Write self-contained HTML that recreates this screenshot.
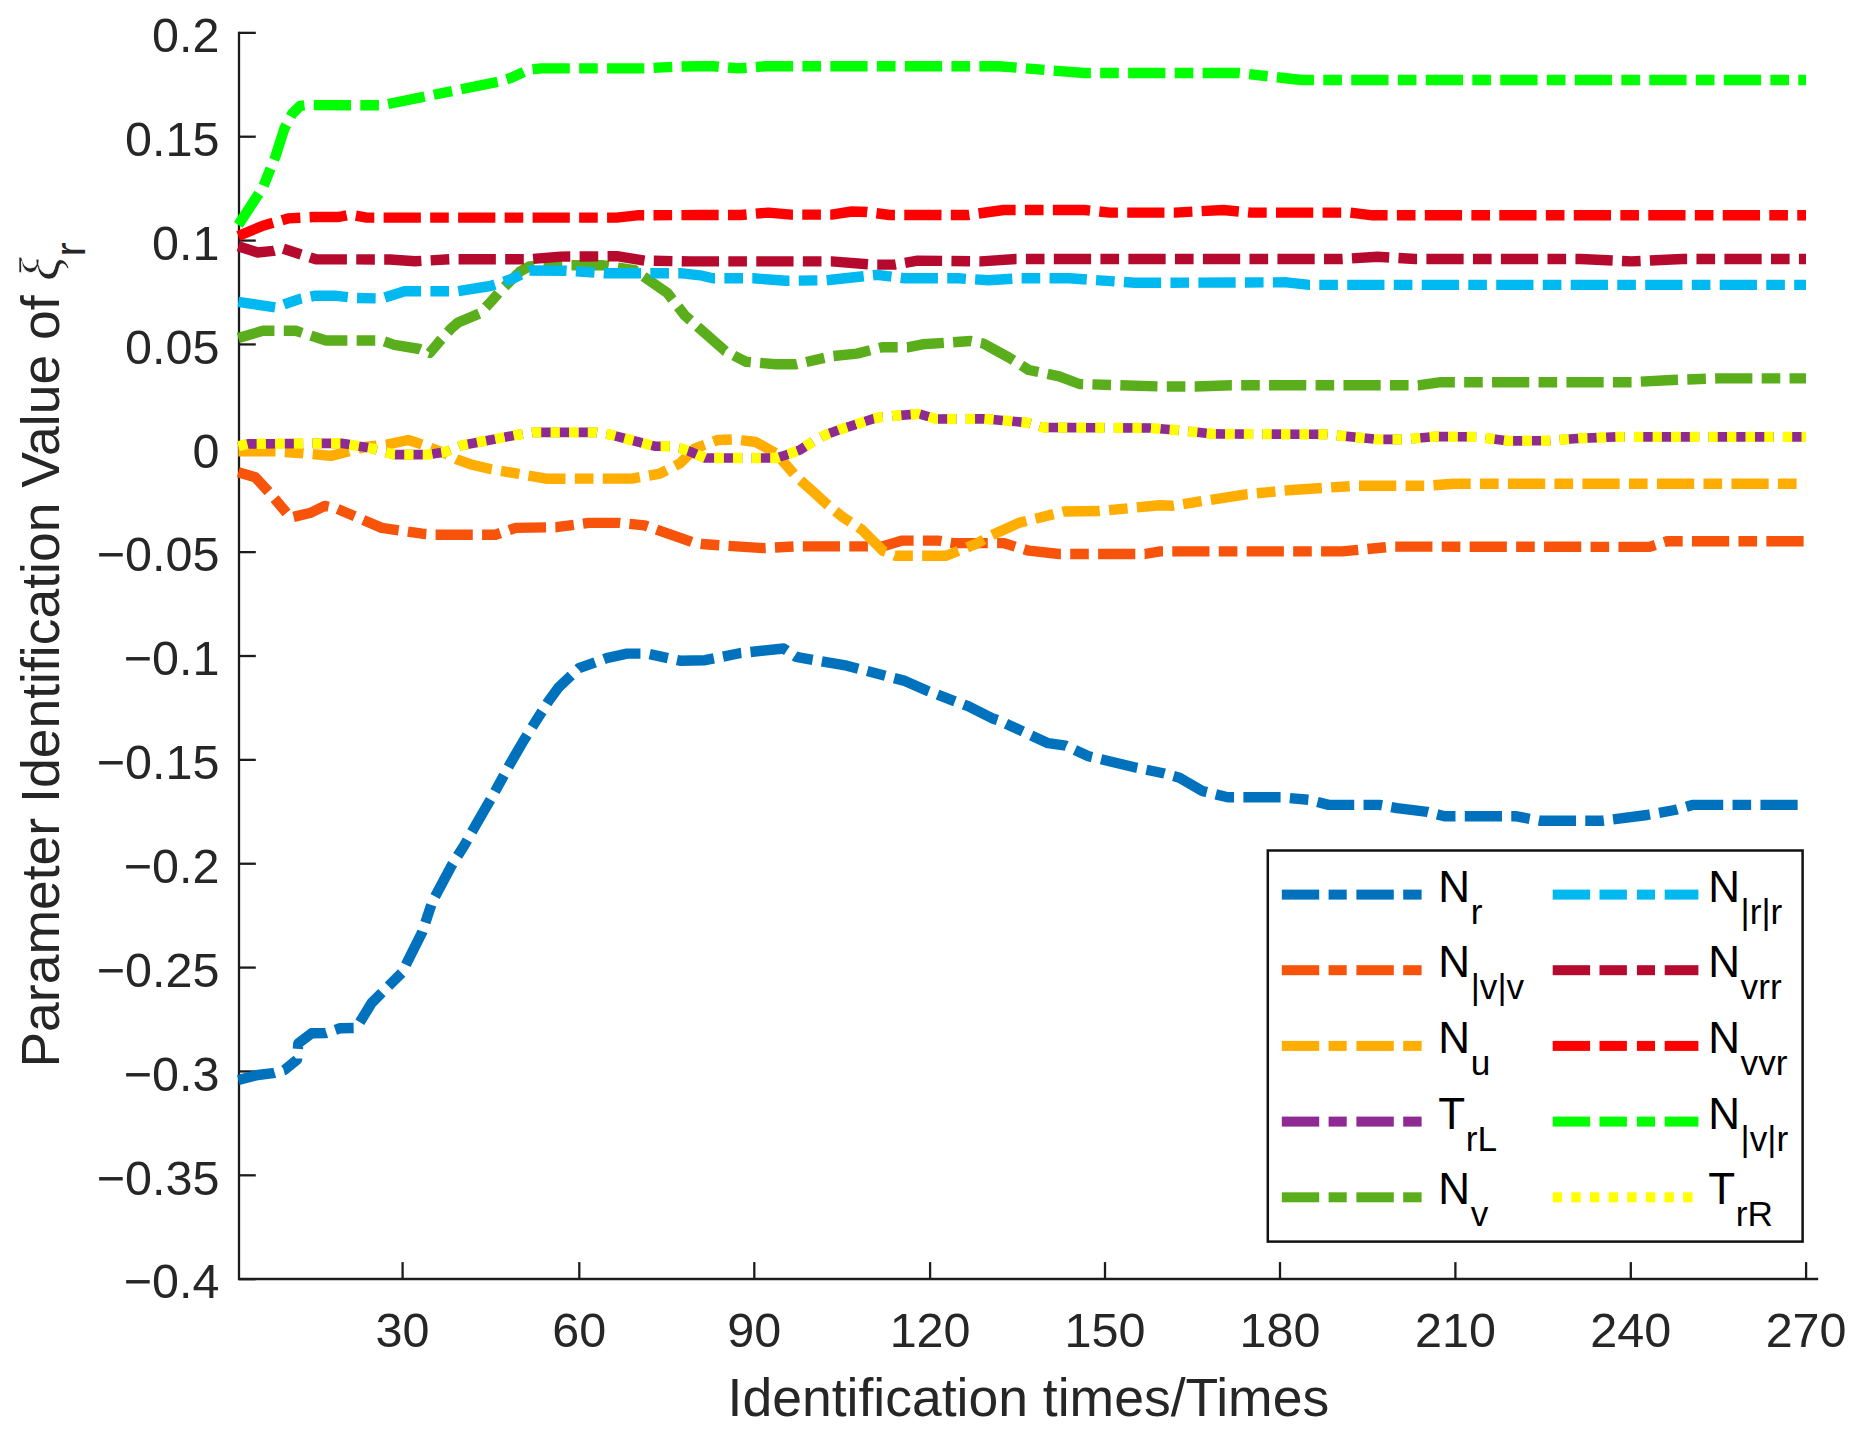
<!DOCTYPE html>
<html lang="en"><head><meta charset="utf-8"><title>Parameter Identification Value</title>
<style>html,body{margin:0;padding:0;background:#fff}svg{display:block}text{font-family:"Liberation Sans",sans-serif}.xi{font-family:"Liberation Serif","DejaVu Serif",serif;font-style:italic}</style></head><body>
<svg width="1859" height="1430" viewBox="0 0 1859 1430">
<rect width="1859" height="1430" fill="#fff"/>
<g stroke="#1c1c1c" stroke-width="2.3" fill="none" stroke-linecap="butt">
<path d="M239 31.700000000000003V1279.0H1818.2"/>
<path d="M239 32.85h16.8"/>
<path d="M239 136.71h16.8"/>
<path d="M239 240.57h16.8"/>
<path d="M239 344.43h16.8"/>
<path d="M239 448.29h16.8"/>
<path d="M239 552.15h16.8"/>
<path d="M239 656.01h16.8"/>
<path d="M239 759.87h16.8"/>
<path d="M239 863.73h16.8"/>
<path d="M239 967.59h16.8"/>
<path d="M239 1071.45h16.8"/>
<path d="M239 1175.31h16.8"/>
<path d="M239 1279.17h16.8"/>
<path d="M402.6 1279.0v-16.9"/>
<path d="M579.3 1279.0v-16.9"/>
<path d="M754.3 1279.0v-16.9"/>
<path d="M930.1 1279.0v-16.9"/>
<path d="M1105.0 1279.0v-16.9"/>
<path d="M1280.0 1279.0v-16.9"/>
<path d="M1455.4 1279.0v-16.9"/>
<path d="M1630.8 1279.0v-16.9"/>
<path d="M1806.1 1279.0v-16.9"/>
</g>
<g fill="none" stroke-linejoin="round" stroke-linecap="butt" stroke-width="10.4">
<polyline points="238.3,1080.0 257.8,1075.0 273.0,1073.2 284.4,1070.0 297.0,1059.8 298.3,1043.4 311.5,1033.3 325.5,1033.1 340.0,1028.3 356.4,1027.9 371.6,1003.0 381.7,992.8 402.0,972.6 407.0,962.5 422.2,932.2 432.3,901.8 452.5,863.9 464.5,845.0 475.2,826.0 492.8,795.6 510.7,762.8 524.0,740.0 548.6,701.0 558.7,687.2 578.9,668.2 606.7,658.1 627.0,653.6 647.2,653.6 680.0,660.7 705.0,660.2 740.6,653.0 783.6,648.5 796.2,656.9 846.8,665.7 904.9,680.9 927.7,691.0 968.1,706.2 993.4,718.8 1000.0,720.9 1048.0,743.2 1065.7,745.7 1088.5,756.3 1136.5,767.7 1164.4,773.5 1179.5,777.8 1202.3,791.0 1227.6,797.3 1280.7,797.3 1308.5,799.8 1328.7,804.9 1379.3,804.9 1397.0,808.1 1427.3,811.9 1444.6,816.2 1515.4,816.2 1540.7,820.8 1601.4,820.8 1647.0,815.0 1674.7,810.0 1692.4,804.9 1806.0,804.9" stroke="#0072BD" stroke-dasharray="37.200 9.300 18.600 9.300"/>
<polyline points="238.3,472.3 255.3,477.3 270.5,493.8 290.5,517.6 310.9,512.7 324.8,505.9 336.2,508.4 381.7,527.9 422.2,533.7 434.8,534.7 495.5,534.7 515.7,527.9 556.2,527.2 589.0,522.9 619.4,522.9 644.6,525.4 695.0,543.0 705.0,544.3 763.3,548.1 796.2,546.4 882.2,546.4 902.4,540.6 937.8,540.6 953.0,543.1 1003.5,543.1 1028.8,550.7 1059.2,554.0 1145.0,554.0 1160.0,551.4 1342.2,551.4 1392.7,546.6 1649.4,546.9 1667.0,541.3 1806.0,541.3" stroke="#F7530B" stroke-dasharray="37.200 9.300 18.600 9.300"/>
<polyline points="238.3,451.3 275.5,451.3 303.3,453.3 331.1,455.9 346.3,452.0 366.7,446.6 386.8,444.6 408.3,440.0 422.2,444.5 445.0,453.3 457.6,459.6 472.3,464.8 491.3,469.2 518.7,473.9 546.0,478.7 632.0,478.6 659.8,473.6 680.0,463.4 695.0,448.3 717.8,440.0 735.5,439.4 755.7,442.0 776.0,453.3 796.2,476.5 813.1,491.6 827.3,504.6 842.8,517.1 861.8,529.6 871.3,539.1 883.2,551.0 895.1,555.8 946.3,555.8 958.1,551.0 976.0,543.9 988.4,536.8 1018.7,522.9 1064.2,511.5 1099.6,511.0 1160.0,505.2 1172.8,505.7 1246.0,494.3 1291.6,490.0 1357.3,485.7 1428.0,485.7 1453.4,483.7 1806.0,483.7" stroke="#FFAD00" stroke-dasharray="37.248 9.312 18.624 9.312"/>
<polyline points="238.3,446.3 248.0,443.9 341.3,443.2 371.6,448.3 394.3,454.6 427.2,454.6 445.0,452.0 462.6,445.2 515.7,435.1 533.4,432.4 596.6,432.4 609.3,434.4 654.8,446.2 670.0,446.2 680.2,448.2 690.0,451.5 705.2,458.0 776.5,458.0 788.4,454.2 800.0,449.9 813.0,441.5 826.2,434.6 840.0,429.5 852.3,425.6 873.7,418.6 882.0,416.8 918.9,413.9 936.7,419.0 984.3,418.8 1026.3,422.5 1044.0,427.5 1150.0,428.0 1175.3,430.0 1213.2,433.9 1327.0,434.4 1377.6,439.4 1402.8,439.4 1435.7,436.5 1476.2,436.9 1509.0,440.9 1547.0,440.7 1581.0,438.2 1616.6,436.9 1806.0,436.9" stroke="#8E2A92" stroke-dasharray="37.230 9.307 18.615 9.307" stroke-width="9.6"/>
<polyline points="238.3,338.0 262.9,330.8 295.7,330.8 326.0,340.5 381.7,340.5 394.3,344.8 419.6,349.0 429.7,353.0 438.7,342.3 451.6,328.1 458.1,322.5 480.0,313.3 490.4,302.3 499.4,292.0 509.7,281.6 520.1,271.6 529.1,266.4 540.0,265.4 601.7,265.1 634.6,270.2 667.4,293.0 685.1,315.7 705.2,333.4 725.4,351.1 745.6,361.7 776.0,364.3 796.2,364.3 831.6,356.2 856.9,353.6 882.2,347.3 907.4,347.3 922.6,344.3 970.7,341.0 983.3,343.5 1008.6,357.4 1028.8,370.0 1059.2,376.4 1079.4,384.0 1119.8,385.3 1160.0,386.5 1195.5,386.5 1231.0,385.3 1418.0,385.3 1440.8,382.2 1631.7,382.2 1667.0,380.2 1717.7,378.4 1806.0,378.4" stroke="#5AAE1B" stroke-dasharray="37.200 9.300 18.600 9.300"/>
<polyline points="238.3,301.8 275.5,307.4 300.0,298.8 314.5,295.8 336.5,295.8 356.4,298.0 381.7,298.5 404.5,291.2 457.6,291.2 490.4,286.0 513.0,278.6 529.5,270.5 566.3,270.7 604.2,273.2 680.0,273.2 700.0,275.3 712.8,278.3 753.2,278.3 786.0,280.8 826.5,280.3 877.0,274.8 905.0,278.3 958.0,278.3 988.4,280.3 1018.7,278.3 1069.3,278.3 1135.0,282.8 1286.5,282.3 1309.3,284.9 1806.0,284.9" stroke="#00B9F1" stroke-dasharray="37.248 9.312 18.624 9.312"/>
<polyline points="238.3,246.2 257.8,252.5 273.0,250.9 282.0,248.3 301.3,254.5 316.0,259.3 390.0,259.5 415.0,261.3 450.0,259.2 530.0,259.2 561.0,256.6 617.0,256.2 644.6,260.6 690.0,261.4 831.6,261.4 872.0,264.6 894.8,264.6 917.6,260.6 980.8,261.4 1016.0,259.0 1342.2,259.0 1377.6,256.8 1415.5,259.0 1581.0,259.0 1631.7,261.4 1682.3,259.0 1806.0,259.0" stroke="#B50A2E" stroke-dasharray="37.267 9.317 18.633 9.317"/>
<polyline points="238.3,236.0 262.9,225.8 288.0,218.4 313.4,217.0 338.7,217.0 350.0,214.6 366.5,217.6 616.9,217.6 637.0,215.3 700.0,215.0 740.6,215.0 768.4,212.6 791.0,214.6 831.6,214.6 851.8,211.5 867.0,212.0 889.7,215.0 968.0,215.0 1003.5,210.0 1084.4,210.0 1109.7,212.6 1175.3,212.6 1223.3,210.0 1251.0,212.6 1349.7,212.6 1372.5,215.3 1806.0,215.3" stroke="#FF0000" stroke-dasharray="37.243 9.311 18.621 9.311"/>
<polyline points="238.3,224.8 262.9,187.5 275.5,156.4 284.4,128.5 292.0,114.0 300.0,106.0 307.0,105.1 381.7,105.3 498.0,81.8 510.7,78.0 528.4,70.0 541.0,68.4 644.7,68.4 675.0,66.7 700.0,66.2 712.8,66.2 738.0,68.4 765.9,66.2 998.5,66.2 1084.4,73.0 1238.5,73.0 1301.7,80.0 1806.0,80.0" stroke="#00FF00" stroke-dasharray="37.254 9.314 18.627 9.314"/>
<polyline points="238.3,446.3 248.0,443.9 341.3,443.2 371.6,448.3 394.3,454.6 427.2,454.6 445.0,452.0 462.6,445.2 515.7,435.1 533.4,432.4 596.6,432.4 609.3,434.4 654.8,446.2 670.0,446.2 680.2,448.2 690.0,451.5 705.2,458.0 776.5,458.0 788.4,454.2 800.0,449.9 813.0,441.5 826.2,434.6 840.0,429.5 852.3,425.6 873.7,418.6 882.0,416.8 918.9,413.9 936.7,419.0 984.3,418.8 1026.3,422.5 1044.0,427.5 1150.0,428.0 1175.3,430.0 1213.2,433.9 1327.0,434.4 1377.6,439.4 1402.8,439.4 1435.7,436.5 1476.2,436.9 1509.0,440.9 1547.0,440.7 1581.0,438.2 1616.6,436.9 1806.0,436.9" stroke="#FFFF00" stroke-dasharray="9.307 9.307"/>
</g>
<g fill="#262626" font-size="48.5" text-anchor="end">
<text x="219.5" y="52.0">0.2</text>
<text x="219.5" y="155.9">0.15</text>
<text x="219.5" y="259.8">0.1</text>
<text x="219.5" y="363.6">0.05</text>
<text x="219.5" y="467.5">0</text>
<text x="219.5" y="571.4">−0.05</text>
<text x="219.5" y="675.2">−0.1</text>
<text x="219.5" y="779.1">−0.15</text>
<text x="219.5" y="882.9">−0.2</text>
<text x="219.5" y="986.8">−0.25</text>
<text x="219.5" y="1090.6">−0.3</text>
<text x="219.5" y="1194.5">−0.35</text>
<text x="219.5" y="1298.4">−0.4</text>
</g>
<g fill="#262626" font-size="48.5" text-anchor="middle">
<text x="402.6" y="1346.5">30</text>
<text x="579.3" y="1346.5">60</text>
<text x="754.3" y="1346.5">90</text>
<text x="930.1" y="1346.5">120</text>
<text x="1105.0" y="1346.5">150</text>
<text x="1280.0" y="1346.5">180</text>
<text x="1455.4" y="1346.5">210</text>
<text x="1630.8" y="1346.5">240</text>
<text x="1806.1" y="1346.5">270</text>
</g>
<text x="1028.4" y="1415.6" font-size="53.5" fill="#262626" text-anchor="middle">Identification times/Times</text>
<g transform="translate(58.7,1067.6) rotate(-90)" fill="#262626"><text x="0" y="0" font-size="53.5">Parameter Identification Value of</text><text class="xi" x="786.5" y="0" font-size="56" stroke="#fff" stroke-width="0.6">ξ</text><text x="811" y="25.8" font-size="42.8">r</text></g>
<rect x="1267.8" y="850.5" width="534.8" height="391.1" fill="#fff" stroke="#111" stroke-width="2.5"/>
<g>
<rect x="1281.8" y="889.6" width="37.4" height="10" fill="#0072BD"/>
<rect x="1328.6" y="889.6" width="18.1" height="10" fill="#0072BD"/>
<rect x="1356.4" y="889.6" width="37.4" height="10" fill="#0072BD"/>
<rect x="1403.2" y="889.6" width="18.4" height="10" fill="#0072BD"/>
<rect x="1281.8" y="965.2" width="37.4" height="10" fill="#F7530B"/>
<rect x="1328.6" y="965.2" width="18.1" height="10" fill="#F7530B"/>
<rect x="1356.4" y="965.2" width="37.4" height="10" fill="#F7530B"/>
<rect x="1403.2" y="965.2" width="18.4" height="10" fill="#F7530B"/>
<rect x="1281.8" y="1040.9" width="37.4" height="10" fill="#FFAD00"/>
<rect x="1328.6" y="1040.9" width="18.1" height="10" fill="#FFAD00"/>
<rect x="1356.4" y="1040.9" width="37.4" height="10" fill="#FFAD00"/>
<rect x="1403.2" y="1040.9" width="18.4" height="10" fill="#FFAD00"/>
<rect x="1281.8" y="1116.6" width="37.4" height="10" fill="#8E2A92"/>
<rect x="1328.6" y="1116.6" width="18.1" height="10" fill="#8E2A92"/>
<rect x="1356.4" y="1116.6" width="37.4" height="10" fill="#8E2A92"/>
<rect x="1403.2" y="1116.6" width="18.4" height="10" fill="#8E2A92"/>
<rect x="1281.8" y="1192.3" width="37.4" height="10" fill="#5AAE1B"/>
<rect x="1328.6" y="1192.3" width="18.1" height="10" fill="#5AAE1B"/>
<rect x="1356.4" y="1192.3" width="37.4" height="10" fill="#5AAE1B"/>
<rect x="1403.2" y="1192.3" width="18.4" height="10" fill="#5AAE1B"/>
<rect x="1552.7" y="889.6" width="37.4" height="10" fill="#00B9F1"/>
<rect x="1599.5" y="889.6" width="27.4" height="10" fill="#00B9F1"/>
<rect x="1636.9" y="889.6" width="18.1" height="10" fill="#00B9F1"/>
<rect x="1664.7" y="889.6" width="33.7" height="10" fill="#00B9F1"/>
<rect x="1552.7" y="965.2" width="37.4" height="10" fill="#B50A2E"/>
<rect x="1599.5" y="965.2" width="27.4" height="10" fill="#B50A2E"/>
<rect x="1636.9" y="965.2" width="18.1" height="10" fill="#B50A2E"/>
<rect x="1664.7" y="965.2" width="33.7" height="10" fill="#B50A2E"/>
<rect x="1552.7" y="1040.9" width="37.4" height="10" fill="#FF0000"/>
<rect x="1599.5" y="1040.9" width="27.4" height="10" fill="#FF0000"/>
<rect x="1636.9" y="1040.9" width="18.1" height="10" fill="#FF0000"/>
<rect x="1664.7" y="1040.9" width="33.7" height="10" fill="#FF0000"/>
<rect x="1552.7" y="1116.6" width="37.4" height="10" fill="#00FF00"/>
<rect x="1599.5" y="1116.6" width="27.4" height="10" fill="#00FF00"/>
<rect x="1636.9" y="1116.6" width="18.1" height="10" fill="#00FF00"/>
<rect x="1664.7" y="1116.6" width="33.7" height="10" fill="#00FF00"/>
<rect x="1552.7" y="1192.3" width="9.4" height="10" fill="#FFFF00"/>
<rect x="1571.3" y="1192.3" width="9.4" height="10" fill="#FFFF00"/>
<rect x="1590.0" y="1192.3" width="9.4" height="10" fill="#FFFF00"/>
<rect x="1608.6" y="1192.3" width="9.4" height="10" fill="#FFFF00"/>
<rect x="1627.2" y="1192.3" width="9.4" height="10" fill="#FFFF00"/>
<rect x="1645.9" y="1192.3" width="9.4" height="10" fill="#FFFF00"/>
<rect x="1664.5" y="1192.3" width="9.4" height="10" fill="#FFFF00"/>
<rect x="1683.1" y="1192.3" width="9.4" height="10" fill="#FFFF00"/>
</g>
<g fill="#000" font-size="44">
<text x="1438.3" y="901.7">N<tspan dx="0.6" dy="21.9" font-size="35.2">r</tspan></text>
<text x="1438.3" y="977.3">N<tspan dx="0.6" dy="21.9" font-size="35.2">|v|v</tspan></text>
<text x="1438.3" y="1053.0">N<tspan dx="0.6" dy="21.9" font-size="35.2">u</tspan></text>
<text x="1438.3" y="1128.7">T<tspan dx="0.6" dy="21.9" font-size="35.2">rL</tspan></text>
<text x="1438.3" y="1204.4">N<tspan dx="0.6" dy="21.9" font-size="35.2">v</tspan></text>
<text x="1708.2" y="901.7">N<tspan dx="0.6" dy="21.9" font-size="35.2">|r|r</tspan></text>
<text x="1708.2" y="977.3">N<tspan dx="0.6" dy="21.9" font-size="35.2">vrr</tspan></text>
<text x="1708.2" y="1053.0">N<tspan dx="0.6" dy="21.9" font-size="35.2">vvr</tspan></text>
<text x="1708.2" y="1128.7">N<tspan dx="0.6" dy="21.9" font-size="35.2">|v|r</tspan></text>
<text x="1708.2" y="1204.4">T<tspan dx="0.6" dy="21.9" font-size="35.2">rR</tspan></text>
</g>
</svg></body></html>
